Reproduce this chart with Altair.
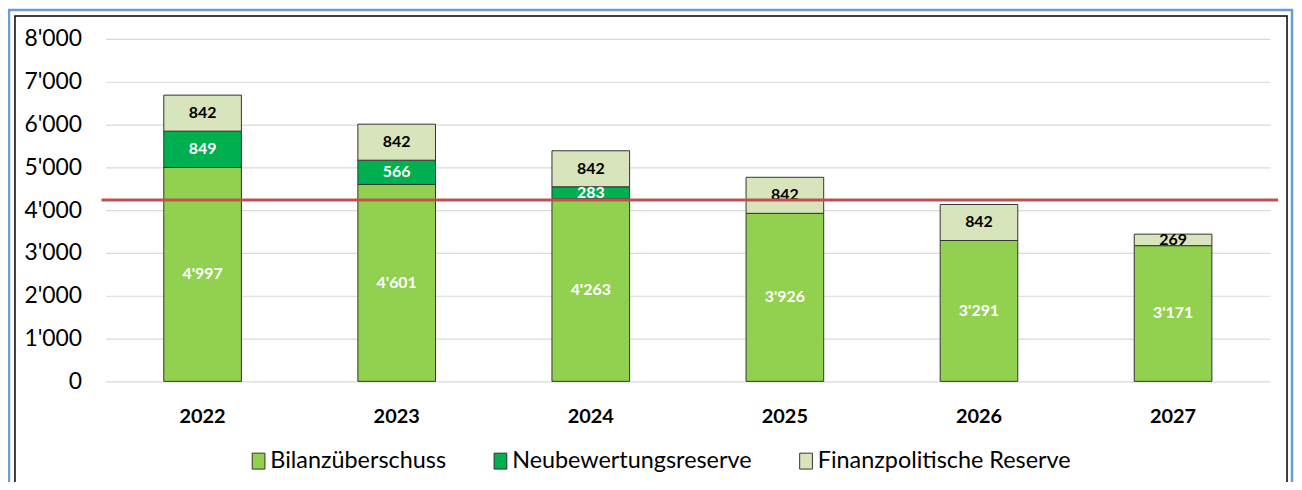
import altair as alt
import pandas as pd

years = ["2022", "2023", "2024", "2025", "2026", "2027"]
series = ["Bilanzüberschuss", "Neubewertungsreserve", "Finanzpolitische Reserve"]
bilanz = [4997, 4601, 4263, 3926, 3291, 3171]
neubew = [849, 566, 283, 0, 0, 0]
finanz = [842, 842, 842, 842, 842, 269]
threshold = [4235]
y_ticks = [0, 1000, 2000, 3000, 4000, 5000, 6000, 7000, 8000]
colors = ["#92D050", "#00B050", "#D8E4BC"]

rows = []
for i, y in enumerate(years):
    for k, (s, vals) in enumerate(zip(series, [bilanz, neubew, finanz])):
        rows.append({"year": y, "series": s, "ord": k, "value": vals[i]})
df = pd.DataFrame(rows)
df = df[df["value"] > 0]

FONT = "Lato"

base = alt.Chart(df)

bars = base.mark_bar(stroke="#333333", strokeWidth=1).encode(
    x=alt.X("year:N", sort=years,
            scale=alt.Scale(paddingInner=0.6, paddingOuter=0.3),
            axis=alt.Axis(title=None, labelAngle=0, labelFont=FONT, labelFontSize=20,
                          labelFontWeight="bold", labelColor="#000000", labelPadding=25,
                          ticks=False, domain=False, grid=False)),
    y=alt.Y("value:Q", stack="zero",
            scale=alt.Scale(domain=[0, 8000], nice=False),
            axis=alt.Axis(title=None, values=y_ticks, labelFont=FONT, labelFontSize=23,
                          labelColor="#000000", labelPadding=24, ticks=False, domain=False,
                          gridColor="#D9D9D9", gridWidth=1.2,
                          labelExpr="replace(format(datum.value, ','), ',', \"'\")")),
    color=alt.Color("series:N", sort=series,
                    scale=alt.Scale(domain=series, range=colors),
                    legend=alt.Legend(title=None, orient="none", direction="horizontal",
                                      legendX=142, legendY=412, labelFont=FONT,
                                      labelFontSize=23.5, labelColor="#000000", labelLimit=0,
                                      symbolType="M-0.8,-1H0.8V1H-0.8Z", symbolSize=256,
                                      symbolStrokeColor="#333333", symbolStrokeWidth=1,
                                      symbolOpacity=1, labelOffset=0, columnPadding=42,
                                      padding=0)),
    order=alt.Order("ord:Q", sort="ascending"),
)

labels = base.transform_stack(
    stack="value", groupby=["year"], sort=[alt.SortField("ord", order="ascending")],
    as_=["v0", "v1"]
).transform_calculate(
    mid="(datum.v0 + datum.v1) / 2",
    txt="replace(format(datum.value, ','), ',', \"'\")"
).mark_text(font=FONT, fontSize=16, fontWeight="bold", baseline="middle", align="center").encode(
    x=alt.X("year:N", sort=years),
    y=alt.Y("mid:Q"),
    text="txt:N",
    color=alt.condition(alt.datum.series == "Finanzpolitische Reserve",
                        alt.value("#000000"), alt.value("#FFFFFF")),
)

rule = alt.Chart(pd.DataFrame({"t": threshold})).mark_rule(color="#C0504D", strokeWidth=3).encode(
    y="t:Q", x=alt.value(-4), x2=alt.value(1178)
)

frame_df = pd.DataFrame({"a": [0]})
blue_frame = alt.Chart(frame_df).mark_rect(fill=None, stroke="#6C9BD6", strokeWidth=2.5).encode(
    x=alt.value(-97), x2=alt.value(1192), y=alt.value(-29), y2=alt.value(500)
)
black_frame = alt.Chart(frame_df).mark_rect(fill=None, stroke="#000000", strokeWidth=1.5).encode(
    x=alt.value(-91), x2=alt.value(1187), y=alt.value(-23), y2=alt.value(500)
)

chart = alt.layer(blue_frame, black_frame, bars, labels, rule).properties(
    width=1170, height=344,
    autosize=alt.AutoSizeParams(type="none"),
    padding={"left": 98, "top": 30, "right": 24, "bottom": 100},
    background="white",
).configure_view(stroke=None)

chart.save("out.html", embed_options={"renderer": "svg", "actions": False})
